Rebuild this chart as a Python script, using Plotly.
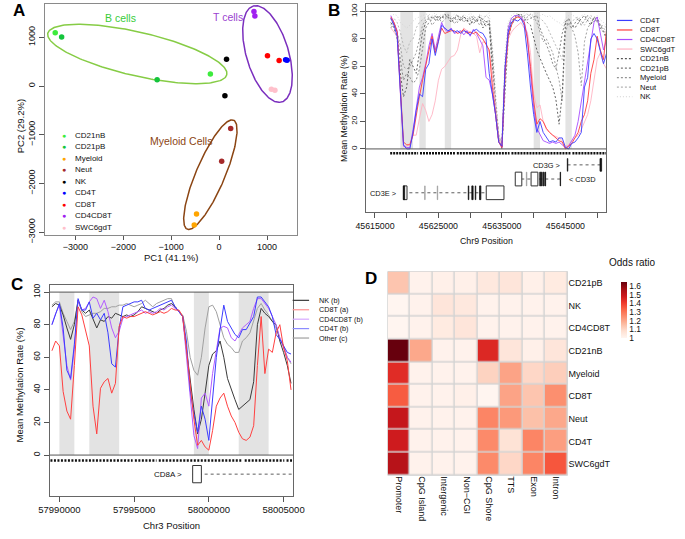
import numpy as np
import plotly.graph_objects as go

W, H = 685, 539
FONT = 'Liberation Sans, Arial, Helvetica, sans-serif'


def px(x):
    return x / W


def py(y):
    return 1 - y / H


# ---------------- A : PCA ----------------
pca_legend = ['CD21nB', 'CD21pB', 'Myeloid', 'Neut', 'NK', 'CD4T', 'CD8T', 'CD4CD8T', 'SWC6gdT']
pca_group = ['CD21nB', 'CD21nB', 'CD21pB', 'CD21pB', 'Myeloid', 'Myeloid', 'Neut', 'Neut', 'NK', 'NK',
             'CD4T', 'CD4T', 'CD8T', 'CD8T', 'CD4CD8T', 'CD4CD8T', 'SWC6gdT', 'SWC6gdT']
pca_pc1 = [-3420, -182, -3286, -1293, -471, -519, 242, 54, 155, 121,
           1388, 1420, 1010, 1253, 727, 747, 1091, 1165]
pca_pc2 = [1097, 250, 1008, 129, -2627, -2855, -873, -1545, 552, -201,
           540, 530, 625, 525, 1532, 1438, -67, -87]

ellipse_label = ['B cells', 'T cells', 'Myeloid Cells']
ellipse_cx = [-1707, 1010, -182]
ellipse_cy = [659, 659, -1820]
ellipse_a = [1916, 1030, 1220]
ellipse_b = [450, 440, 300]
ellipse_angle = [-12.8, 107, 66.6]
ellipse_label_x = [-2061, 182, -788]
ellipse_label_y = [1405, 1425, -1135]

# ---------------- B : Chr9 CD3 locus ----------------
b_pos = list(range(45617500, 45651501, 500))
b_cd4t = [95, 90, 82, 40, 3, 0, 0, 12, 28, 40, 38, 58, 62, 80, 68, 78, 90, 88, 86, 87,
          85, 86, 84, 86, 85, 83, 86, 87, 85, 84, 80, 55, 40, 25, 5, 2, 60, 85, 92, 94,
          93, 95, 90, 70, 45, 25, 12, 20, 12, 8, 5, 6, 5, 8, 8, 1, 0, 4, 5, 8,
          12, 45, 52, 80, 84, 80, 70, 62, 70]
b_cd8t = [96, 92, 85, 45, 5, 3, 3, 10, 25, 38, 50, 60, 72, 82, 70, 80, 88, 84, 85, 86,
          86, 84, 85, 87, 84, 85, 84, 85, 82, 80, 76, 72, 45, 25, 5, 1, 55, 82, 90, 95,
          96, 95, 92, 80, 60, 35, 18, 22, 20, 15, 12, 10, 8, 6, 5, 0, 2, 4, 8, 12,
          20, 25, 35, 55, 65, 82, 72, 65, 88]
b_cd4cd8t = [97, 92, 86, 42, 2, 1, 1, 14, 30, 45, 52, 62, 75, 84, 72, 82, 92, 87, 85, 88,
             84, 85, 86, 83, 86, 82, 87, 84, 80, 75, 52, 50, 40, 25, 5, 1, 58, 88, 95, 97,
             97, 96, 93, 82, 55, 30, 15, 10, 6, 5, 4, 5, 4, 5, 3, 1, 2, 6, 10, 20,
             35, 50, 65, 80, 92, 96, 85, 72, 80]
b_swc6gdt = [88, 85, 82, 40, 2, 2, 4, 10, 10, 22, 33, 28, 20, 25, 35, 50, 58, 60, 64, 67,
             68, 72, 83, 88, 86, 85, 84, 82, 70, 78, 77, 70, 55, 30, 8, 2, 55, 80, 85, 88,
             90, 92, 88, 85, 70, 40, 30, 32, 20, 14, 12, 10, 9, 8, 6, 2, 3, 6, 8, 10,
             14, 20, 25, 35, 50, 65, 70, 62, 58]
b_cd21nb = [92, 88, 80, 55, 38, 45, 65, 60, 55, 70, 85, 92, 95,
            96, 94, 97, 95, 98, 96, 92, 95, 97, 93, 96, 94, 90, 95, 92, 96, 88, 93, 90,
            60, 30, 8, 0, 50, 85, 92, 96, 98, 97, 95, 92, 90,
            80, 72, 66, 60, 55, 50, 45, 36, 18, 40, 92, 95, 90,
            88, 92, 95, 97, 93, 90, 96, 94, 88, 85, 80]
b_cd21pb = [95, 90, 85, 65, 50, 55, 52, 48, 50, 58, 75, 88, 92,
            94, 97, 93, 96, 95, 98, 94, 96, 92, 95, 97, 93, 95, 91, 94, 97, 93, 89, 92,
            70, 35, 10, 2, 45, 80, 90, 94, 96, 98, 96, 94, 95,
            96, 97, 88, 82, 76, 70, 62, 58, 70, 84, 93, 90, 88,
            92, 95, 90, 94, 97, 95, 92, 96, 90, 86, 82]
b_myeloid = [88, 92, 85, 75, 60, 58, 60, 65, 70, 80, 90, 94, 96,
             90, 93, 96, 92, 94, 97, 95, 91, 94, 96, 92, 95, 93, 97, 94, 90, 95, 92, 94,
             55, 25, 5, 5, 60, 88, 93, 95, 97, 95, 93, 96, 98,
             96, 92, 85, 78, 80, 75, 70, 60, 50, 35, 85, 92, 88,
             82, 70, 46, 78, 88, 92, 95, 93, 90, 88, 85]
b_neut = [90, 95, 92, 85, 75, 70, 78, 80, 88, 92, 94, 96, 97,
          95, 97, 94, 96, 98, 95, 93, 96, 98, 94, 96, 92, 97, 95, 93, 96, 94, 97, 95,
          65, 30, 8, 3, 62, 90, 95, 97, 98, 96, 97, 98, 96,
          94, 97, 95, 93, 90, 85, 80, 75, 70, 65, 88, 94, 92,
          95, 96, 93, 90, 94, 97, 95, 92, 89, 90, 88]
b_nk = [96, 98, 97, 92, 90, 88, 90, 93, 95, 96, 97, 98, 98,
        97, 99, 96, 98, 97, 99, 96, 98, 97, 95, 98, 96, 99, 97, 95, 98, 96, 97, 99,
        75, 40, 10, 5, 70, 92, 97, 99, 98, 97, 99, 98, 97,
        98, 99, 97, 98, 96, 97, 95, 93, 92, 90, 95, 97, 98,
        96, 94, 97, 98, 95, 93, 96, 97, 94, 92, 90]

b_shade_start = [45619000, 45622000, 45626000, 45640000, 45645000]
b_shade_end = [45621000, 45623000, 45627000, 45641000, 45646000]
b_cpg_start = [45617400, 45622100, 45627900, 45636500, 45646100]
b_cpg_end = [45621800, 45627600, 45636200, 45645800, 45651400]

cd3e_span = [45619480, 45632530]
cd3e_utr = [(45619480, 45620050), (45632530, 45635320)]
cd3e_cds = [(45619480, 45619680), (45629700, 45629780), (45630260, 45630460),
            (45630800, 45630880), (45631480, 45631680)]
cd3e_faint = [(45622830, 45622910), (45624810, 45624890)]
cd3d_span = [45637100, 45644220]
cd3d_utr = [(45637100, 45638130), (45639590, 45640660)]
cd3d_cds = [(45640960, 45641100), (45641220, 45641340), (45641520, 45641640),
            (45641780, 45641880), (45644180, 45644240)]
cd3d_faint = [(45638840, 45638930)]
cd3g_span = [45645335, 45650560]
cd3g_utr = []
cd3g_cds = [(45645300, 45645370), (45650450, 45650700)]
cd3g_faint = []

# ---------------- C : Chr3 CD8A locus ----------------
c_pos = list(range(57989500, 58005501, 250))
c_nk = [91, 93, 92, 86, 78, 71, 80, 95, 89, 87, 89, 83, 78, 83, 82, 85, 84, 87, 86, 85,
        86, 85, 86, 88, 91, 90, 89, 88, 87, 89, 90, 92, 93,
        91, 88, 85, 65, 45, 28, 13, 22, 38, 55, 62, 64, 70, 60, 47, 40, 34, 28, 30,
        32, 34, 45, 80, 90, 87, 85, 82, 80, 70, 63, 55, 44]
c_cd8t = [64, 70, 67, 39, 27, 22, 55, 91, 86, 77, 67, 30, 13, 41, 45, 47, 38, 44, 79, 85,
          84, 85, 85, 86, 87, 88, 87, 86, 87, 88, 87, 88, 90,
          89, 89, 85, 65, 45, 22, 6, 9, 5, 3, 15, 30, 35, 38, 30, 24, 20, 14, 10,
          9, 11, 18, 55, 85, 50, 65, 63, 75, 80, 66, 58, 40]
c_cd4cd8t = [80, 87, 92, 75, 55, 46, 65, 95, 89, 90, 94, 97, 96, 90, 95, 88, 78, 72, 76, 84,
             85, 86, 87, 88, 89, 87, 88, 87, 88, 90, 89, 91, 92,
             90, 88, 85, 60, 35, 12, 4, 35, 38, 30, 50, 65, 78, 79, 78, 72, 70, 74, 78,
             80, 82, 90, 96, 96, 93, 90, 85, 80, 72, 66, 60, 57]
c_cd4t = [80, 86, 93, 78, 52, 47, 68, 96, 89, 89, 94, 84, 87, 83, 87, 75, 56, 54, 78, 91,
          92, 93, 94, 94, 95, 90, 89, 90, 91, 92, 93, 94, 95,
          91, 88, 85, 70, 40, 25, 14, 30, 22, 9, 35, 60, 77, 92, 82, 78, 74, 72, 77,
          77, 81, 85, 97, 97, 94, 91, 85, 74, 71, 67, 63, 62]
c_other = [92, 94, 94, 87, 82, 77, 82, 95, 88, 85, 86, 87, 87, 88, 90, 90, 91, 91, 92, 92,
           93, 92, 91, 92, 93, 95, 93, 91, 93, 94, 95, 96, 96,
           90, 88, 86, 76, 60, 52, 49, 60, 78, 91, 92, 88, 80, 72, 68, 66, 63, 63, 70,
           72, 75, 82, 90, 93, 89, 86, 82, 78, 72, 67, 60, 56]

c_shade_start = [57990000, 57992000, 57999000, 58002000]
c_shade_end = [57991000, 57994000, 58000000, 58004000]
c_cpg_start = [57989400, 57995050, 57996650, 58002400, 58005200]
c_cpg_end = [57994900, 57996500, 58002250, 58005050, 58005600]
cd8a_span = [57998918, 58005600]
cd8a_utr = [(57998918, 57999500)]

# ---------------- D : odds ratio heatmap ----------------
d_rows = ['CD21pB', 'NK', 'CD4CD8T', 'CD21nB', 'Myeloid', 'CD8T', 'Neut', 'CD4T', 'SWC6gdT']
d_cols = ['Promoter', 'CpG Island', 'Intergenic', 'Non\u2212CGI', 'CpG Shore', 'TTS', 'Exon', 'Intron']
d_odds = [
    [1.14, 1.01, 1.02, 1.02, 1.05, 1.06, 1.02, 1.04],
    [1.00, 1.01, 1.06, 1.05, 1.01, 1.01, 1.01, 1.01],
    [1.00, 1.01, 1.04, 1.06, 1.01, 1.01, 1.01, 1.01],
    [1.65, 1.20, 1.01, 1.01, 1.45, 1.06, 1.02, 1.06],
    [1.44, 1.01, 1.01, 1.01, 1.11, 1.21, 1.10, 1.12],
    [1.35, 1.01, 1.01, 1.02, 1.00, 1.21, 1.14, 1.25],
    [1.50, 1.01, 1.01, 1.01, 1.27, 1.23, 1.15, 1.20],
    [1.48, 1.01, 1.01, 1.01, 1.26, 1.07, 1.27, 1.22],
    [1.53, 1.01, 1.01, 1.01, 1.26, 1.10, 1.27, 1.36],
]

fig = go.Figure()
shapes = []
anns = []


def text(x, y, s, size, color='#111', xanchor='center', yanchor='middle', angle=0,
         xref='paper', yref='paper', bold=False):
    if bold:
        s = '<b>' + s + '</b>'
    anns.append(dict(x=x, y=y, xref=xref, yref=yref, text=s, showarrow=False,
                     xanchor=xanchor, yanchor=yanchor, textangle=angle,
                     font=dict(family=FONT, size=size, color=color)))


# ---- A ----
colA = {'CD21nB': '#3DEB3D', 'CD21pB': '#14C43C', 'Myeloid': '#FFA500', 'Neut': '#A52A2A',
        'NK': '#000000', 'CD4T': '#0000FF', 'CD8T': '#FF0000', 'CD4CD8T': '#A020F0',
        'SWC6gdT': '#FFC0CB'}
ell_col = ['#86CC45', '#7B2FBE', '#8B4513']
lab_col = ['#38CC38', '#9A3FD0', '#8B4513']

t = np.linspace(0, 2 * np.pi, 240)
for i in range(3):
    th = np.radians(ellipse_angle[i])
    u = ellipse_a[i] * np.cos(t)
    v = ellipse_b[i] * np.sin(t)
    fig.add_trace(go.Scatter(x=ellipse_cx[i] + u * np.cos(th) - v * np.sin(th),
                             y=ellipse_cy[i] + u * np.sin(th) + v * np.cos(th),
                             mode='lines', line=dict(color=ell_col[i], width=1.5),
                             xaxis='x', yaxis='y', showlegend=False, hoverinfo='skip'))
    text(ellipse_label_x[i], ellipse_label_y[i], ellipse_label[i], 10.5, lab_col[i],
         xref='x', yref='y')

for g in pca_legend:
    xs = [a for a, gg in zip(pca_pc1, pca_group) if gg == g]
    ys = [b for b, gg in zip(pca_pc2, pca_group) if gg == g]
    fig.add_trace(go.Scatter(x=xs, y=ys, mode='markers', xaxis='x', yaxis='y',
                             marker=dict(size=5.5, color=colA[g]), showlegend=False, name=g))

for i, g in enumerate(pca_legend):
    yy = 136.7 + 11.7 * i
    text(px(55), py(yy), '\u25CF', 7, colA[g])
    text(px(64), py(yy), g, 8, xanchor='left')

text(px(165), py(261), 'PC1 (41.1%)', 9.5)
text(px(10), py(128), 'PC2 (29.2%)', 9.5, angle=-90)

# ---- B ----
b_series = [('NK', b_nk, '#D0D0D0', '1px,2px'), ('Neut', b_neut, '#B4B4B4', '2px,2px'),
            ('Myeloid', b_myeloid, '#959595', '2px,2px'), ('CD21pB', b_cd21pb, '#7A7A7A', '2px,2px'),
            ('CD21nB', b_cd21nb, '#555555', '2px,2px'), ('SWC6gdT', b_swc6gdt, '#FFB3C3', 'solid'),
            ('CD4CD8T', b_cd4cd8t, '#A84DFF', 'solid'), ('CD8T', b_cd8t, '#FF3C3C', 'solid'),
            ('CD4T', b_cd4t, '#3C3CFF', 'solid')]
for name, vals, col, dash in b_series:
    fig.add_trace(go.Scatter(x=b_pos, y=vals, mode='lines', xaxis='x2', yaxis='y2', name=name,
                             line=dict(color=col, width=0.9, dash=dash), showlegend=False))

for s0, s1 in zip(b_shade_start, b_shade_end):
    shapes.append(dict(type='rect', xref='x2', yref='y2', x0=s0, x1=s1, y0=0, y1=100,
                       fillcolor='#E3E3E3', line=dict(width=0), layer='below'))
for yv in (0, 100):
    shapes.append(dict(type='line', xref='x2 domain', yref='y2', x0=0, x1=1, y0=yv, y1=yv,
                       line=dict(color='#555555', width=1)))

cx, cy = [], []
for s0, s1 in zip(b_cpg_start, b_cpg_end):
    cx += [s0, s1, None]
    cy += [-3.1, -3.1, None]
fig.add_trace(go.Scatter(x=cx, y=cy, mode='lines', xaxis='x2', yaxis='y2', showlegend=False,
                         line=dict(color='#111111', width=2.5, dash='2px,1px')))


def gene(xr, yr, span, utr, cds, faint, yc, half):
    shapes.append(dict(type='line', xref=xr, yref=yr, x0=span[0], x1=span[1], y0=yc, y1=yc,
                       line=dict(color='#333333', width=0.8, dash='dot')))
    for a, b in utr:
        shapes.append(dict(type='rect', xref=xr, yref=yr, x0=a, x1=b, y0=yc - half, y1=yc + half,
                           fillcolor='white', line=dict(color='#333333', width=1)))
    for a, b in faint:
        shapes.append(dict(type='rect', xref=xr, yref=yr, x0=a, x1=b, y0=yc - half, y1=yc + half,
                           fillcolor='#999999', line=dict(color='#999999', width=0.6)))
    for a, b in cds:
        shapes.append(dict(type='rect', xref=xr, yref=yr, x0=a, x1=b, y0=yc - half, y1=yc + half,
                           fillcolor='#111111', line=dict(color='#111111', width=0.8)))


gene('x2', 'y2', cd3g_span, cd3g_utr, cd3g_cds, cd3g_faint, -11.6, 4.6)
gene('x2', 'y2', cd3d_span, cd3d_utr, cd3d_cds, cd3d_faint, -21.9, 5.0)
gene('x2', 'y2', cd3e_span, cd3e_utr, cd3e_cds, cd3e_faint, -31.9, 5.0)
text(45644470, -12.4, 'CD3G >', 7.4, xanchor='right', xref='x2', yref='y2')
text(45645180, -22.4, '< CD3D', 7.4, xanchor='left', xref='x2', yref='y2')
text(45618660, -32.2, 'CD3E >', 7.4, xanchor='right', xref='x2', yref='y2')

for i, (name, vals, col, dash) in enumerate(b_series[::-1]):
    yy = 19.8 + 9.72 * i
    shapes.append(dict(type='line', xref='paper', yref='paper', x0=px(626), x1=px(642),
                       y0=py(yy), y1=py(yy), line=dict(color=col, width=1.2, dash=dash)))
    text(px(648), py(yy), name, 7.6, xanchor='left')

text(px(491), py(245), 'Chr9 Position', 8.8)
text(px(344), py(109), 'Mean Methylation Rate (%)', 8.8, angle=-90)

# ---- C ----
c_series = [('Other (c)', c_other, '#A0A0A0'), ('NK (b)', c_nk, '#3A3A3A'),
            ('CD4CD8T (b)', c_cd4cd8t, '#B25CFF'), ('CD4T (b)', c_cd4t, '#3C3CFF'),
            ('CD8T (a)', c_cd8t, '#FF4040')]
for name, vals, col in c_series:
    fig.add_trace(go.Scatter(x=c_pos, y=vals, mode='lines', xaxis='x3', yaxis='y3', name=name,
                             line=dict(color=col, width=1), showlegend=False))
for s0, s1 in zip(c_shade_start, c_shade_end):
    shapes.append(dict(type='rect', xref='x3', yref='y3', x0=s0, x1=s1, y0=0, y1=100,
                       fillcolor='#E3E3E3', line=dict(width=0), layer='below'))
for yv in (0, 100):
    shapes.append(dict(type='line', xref='x3 domain', yref='y3', x0=0, x1=1, y0=yv, y1=yv,
                       line=dict(color='#555555', width=1)))
cx, cy = [], []
for s0, s1 in zip(c_cpg_start, c_cpg_end):
    cx += [s0, s1, None]
    cy += [-3.4, -3.4, None]
fig.add_trace(go.Scatter(x=cx, y=cy, mode='lines', xaxis='x3', yaxis='y3', showlegend=False,
                         line=dict(color='#111111', width=2.5, dash='2px,1.5px')))
gene('x3', 'y3', cd8a_span, cd8a_utr, [], [], -11.7, 5.3)
text(57998310, -11.9, 'CD8A >', 8, xanchor='right', xref='x3', yref='y3')

c_leg = ['NK (b)', 'CD8T (a)', 'CD4CD8T (b)', 'CD4T (b)', 'Other (c)']
c_leg_col = ['#3A3A3A', '#FF9090', '#D6A8FF', '#8C8CFF', '#A0A0A0']
for i, name in enumerate(c_leg):
    yy = 305 + 9.6 * i
    shapes.append(dict(type='line', xref='paper', yref='paper', x0=px(291), x1=px(308),
                       y0=py(yy), y1=py(yy), line=dict(color=c_leg_col[i], width=1.2)))
    text(px(316), py(yy), name, 7.2, xanchor='left')

text(px(166), py(534), 'Chr3 Position', 9.5)
text(px(9), py(391), 'Mean Methylation Rate (%)', 9.5, angle=-90)

# ---- D ----
reds = [[0, '#FFF5F0'], [0.125, '#FEE0D2'], [0.25, '#FCBBA1'], [0.375, '#FC9272'],
        [0.5, '#FB6A4A'], [0.625, '#EF3B2C'], [0.75, '#CB181D'], [0.875, '#A50F15'],
        [1, '#67000D']]
fig.add_trace(go.Heatmap(z=d_odds, x=d_cols, y=d_rows, xaxis='x4', yaxis='y4',
                         colorscale=reds, zmin=1, zmax=1.65, xgap=1.5, ygap=1.5,
                         colorbar=dict(x=px(620), xanchor='left', y=py(276), yanchor='top',
                                       len=76, lenmode='pixels', thickness=6,
                                       outlinewidth=0, ticks='',
                                       tickvals=[1, 1.1, 1.2, 1.3, 1.4, 1.5, 1.6],
                                       ticktext=['1', '1.1', '1.2', '1.3', '1.4', '1.5', '1.6'],
                                       tickfont=dict(family=FONT, size=8.5, color='#111'))))
shapes.append(dict(type='rect', xref='x4 domain', yref='y4 domain', x0=0, x1=1, y0=0, y1=1,
                   fillcolor='#D4D4D4', line=dict(color='#D4D4D4', width=1), layer='below'))
text(px(642), py(266), 'Odds ratio', 10)

# panel letters
text(px(8), py(10), 'A', 17, '#000', bold=True)
text(px(334), py(10), 'B', 17, '#000', bold=True)
text(px(6), py(289), 'C', 17, '#000', bold=True)
text(px(372), py(283), 'D', 17, '#000', bold=True)

tickf = dict(family=FONT, size=9, color='#111')
ax_common = dict(showgrid=False, zeroline=False, showline=True, mirror=True,
                 ticks='outside', ticklen=5, tickcolor='#555')

fig.update_layout(
    width=W, height=H, autosize=False,
    margin=dict(l=0, r=0, t=0, b=0),
    paper_bgcolor='white', plot_bgcolor='white',
    font=dict(family=FONT, color='#111'),
    showlegend=False,
    shapes=shapes, annotations=anns,
    xaxis=dict(domain=[px(35), px(295)], range=[-3636, 1616], anchor='y',
               tickvals=[-3000, -2000, -1000, 0, 1000],
               ticktext=['\u22123000', '\u22122000', '\u22121000', '0', '1000'],
               linecolor='#8A8A8A', tickfont=tickf, **dict(ax_common, ticklen=4)),
    yaxis=dict(domain=[py(238), py(3)], range=[-3050, 1687], anchor='x',
               tickvals=[-3000, -2000, -1000, 0, 1000],
               ticktext=['\u22123000', '\u22122000', '\u22121000', '0', '1000'],
               tickangle=-90, linecolor='#8A8A8A', tickfont=tickf, **ax_common),
    xaxis2=dict(domain=[px(366.7), px(615)], range=[45613580, 45651430], anchor='y2',
                tickvals=[45615000, 45620000, 45625000, 45630000, 45635000, 45640000,
                          45645000, 45650000],
                ticktext=['45615000', '', '45625000', '', '45635000', '', '45645000', ''],
                linecolor='#666', tickfont=dict(family=FONT, size=8.8, color='#111'), **ax_common),
    yaxis2=dict(domain=[py(215), py(2.7)], range=[-45.9, 105.7], anchor='x2',
                tickvals=[0, 20, 40, 60, 80, 100], tickangle=-90,
                linecolor='#666', tickfont=dict(family=FONT, size=8, color='#111'), **ax_common),
    xaxis3=dict(domain=[px(40), px(291.7)], range=[57989352, 58005654], anchor='y3',
                tickvals=[57990000, 57995000, 58000000, 58005000],
                ticktext=['57990000', '57995000', '58000000', '58005000'],
                linecolor='#666', tickfont=dict(family=FONT, size=9.5, color='#111'), **ax_common),
    yaxis3=dict(domain=[py(504), py(289.3)], range=[-24.9, 104.4], anchor='x3',
                tickvals=[0, 20, 40, 60, 80, 100], tickangle=-90,
                linecolor='#666', tickfont=dict(family=FONT, size=8.5, color='#111'), **ax_common),
    xaxis4=dict(domain=[px(389.3), px(575)], anchor='y4', tickangle=90, ticks='',
                showgrid=False, zeroline=False, showline=False,
                tickfont=dict(family=FONT, size=9, color='#111')),
    yaxis4=dict(domain=[py(483.3), py(275.7)], anchor='x4', side='right', ticks='',
                autorange='reversed', showgrid=False, zeroline=False, showline=False,
                tickfont=dict(family=FONT, size=9, color='#111')),
)

fig.write_html("out.html", config={'displayModeBar': False},
               post_script="document.body.style.margin='0';")
